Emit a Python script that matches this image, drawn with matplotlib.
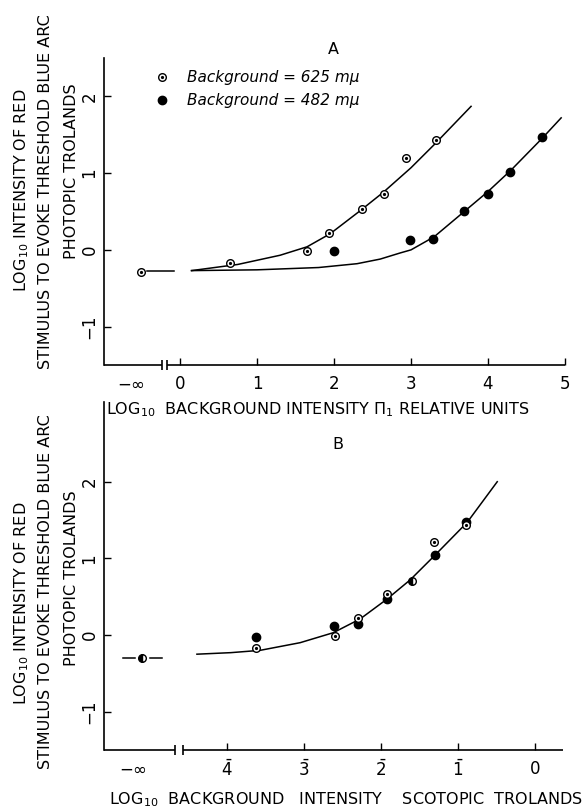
import matplotlib.pyplot as plt

# ---- panel A data (log units) ----
a_open_x = [-0.51, 0.65, 1.65, 1.94, 2.36, 2.65, 2.93, 3.32]
a_open_y = [-0.29, -0.17, -0.01, 0.22, 0.53, 0.73, 1.20, 1.43]
a_fill_x = [2.00, 2.99, 3.29, 3.69, 4.00, 4.29, 4.70]
a_fill_y = [-0.01, 0.13, 0.14, 0.51, 0.73, 1.02, 1.47]
a_curve_open_x = [0.15, 0.75, 1.30, 1.65, 1.95, 2.34, 2.64, 3.00, 3.31, 3.78]
a_curve_open_y = [-0.27, -0.19, -0.07, 0.04, 0.21, 0.51, 0.75, 1.07, 1.38, 1.87]
a_curve_fill_x = [0.15, 1.00, 1.80, 2.30, 2.60, 2.86, 3.00, 3.30, 3.68, 4.00, 4.30, 4.70, 4.95]
a_curve_fill_y = [-0.27, -0.26, -0.23, -0.18, -0.12, -0.04, 0.00, 0.17, 0.49, 0.76, 1.04, 1.45, 1.72]
a_dash_x = [-0.43, -0.08]
a_dash_y = [-0.27, -0.27]
a_xticks = [-0.64, 0, 1, 2, 3, 4, 5]
a_xticklabels = [r'$-\infty$', '0', '1', '2', '3', '4', '5']

# ---- panel B data ----
b_open_x = [-3.62, -2.60, -2.30, -1.92, -1.31, -0.89]
b_open_y = [-0.17, -0.01, 0.22, 0.53, 1.22, 1.43]
b_fill_x = [-3.62, -2.61, -2.30, -1.92, -1.30, -0.89]
b_fill_y = [-0.03, 0.12, 0.15, 0.47, 1.04, 1.48]
b_half_x = [-5.10, -1.60]
b_half_y = [-0.30, 0.71]
b_curve_x = [-4.39, -3.95, -3.57, -3.05, -2.62, -2.27, -1.92, -1.62, -1.32, -0.88, -0.49]
b_curve_y = [-0.25, -0.23, -0.20, -0.10, 0.03, 0.21, 0.47, 0.72, 1.02, 1.47, 2.00]
b_dash_l_x = [-5.35, -5.20]
b_dash_r_x = [-5.00, -4.85]
b_dash_y = [-0.30, -0.30]
b_xticks = [-5.22, -4, -3, -2, -1, 0]
b_xticklabels = [r'$-\infty$', r'$\bar{4}$', r'$\bar{3}$', r'$\bar{2}$', r'$\bar{1}$', '0']

yticks = [-1, 0, 1, 2]
yticklabels = ['\u22121', '0', '1', '2']

W, H = 587, 811
fig = plt.figure(figsize=(W / 100, H / 100), dpi=100)


def rect(l, t, r, b):
    return [l / W, 1 - b / H, (r - l) / W, (b - t) / H]


axA = fig.add_axes(rect(104, 58, 565, 365))
axB = fig.add_axes(rect(104, 402, 563, 750))
axB.patch.set_visible(False)
axA.set_xlim(-0.987, 5.0)
axA.set_ylim(-1.50, 2.50)
axB.set_xlim(-5.597, 0.364)
axB.set_ylim(-1.50, 3.04)


def style(ax, xticks, xlabels, brk):
    for s in ['top', 'right', 'bottom']:
        ax.spines[s].set_visible(False)
    ax.spines['left'].set_linewidth(1.2)
    ax.set_yticks(yticks)
    ax.set_yticklabels(yticklabels, rotation=90, va='center')
    ax.set_xticks(xticks)
    ax.set_xticklabels(xlabels)
    ax.tick_params(direction='in', length=5, width=1, labelsize=12)
    ax.tick_params(axis='x', pad=7)
    ax.tick_params(axis='y', pad=4)
    ax.xaxis.get_major_ticks()[0].tick1line.set_visible(False)
    # broken x axis
    x0, x1 = ax.get_xlim()
    y0 = ax.get_ylim()[0]
    kw = dict(color='k', lw=1.2, clip_on=False, solid_capstyle='butt')
    ax.plot([x0, brk[0]], [y0, y0], **kw)
    ax.plot([brk[1], x1], [y0, y0], **kw)
    for b in brk:
        ax.plot([b, b], [y0 - 0.06, y0 + 0.06], **kw)


style(axA, a_xticks, a_xticklabels, (-0.23, -0.17))
style(axB, b_xticks, b_xticklabels, (-4.68, -4.57))

ms_o, ms_f = 5.5, 6

# panel A
axA.plot(a_curve_open_x, a_curve_open_y, color='k', lw=1.1)
axA.plot(a_curve_fill_x, a_curve_fill_y, color='k', lw=1.1)
axA.plot(a_dash_x, a_dash_y, color='k', lw=1.1)
h_open, = axA.plot(a_open_x, a_open_y, 'o', ms=ms_o, mfc='white', mec='k', mew=1, ls='none')
h_dot, = axA.plot(a_open_x, a_open_y, 'o', ms=1.3, color='k', ls='none')
h_fill, = axA.plot(a_fill_x, a_fill_y, 'o', ms=ms_f, color='k', ls='none')
axA.legend([(h_open, h_dot), h_fill],
           ['Background = 625 m\u03bc', 'Background = 482 m\u03bc'],
           loc='upper left', bbox_to_anchor=(155 / W, 1 - 70 / H),
           bbox_transform=fig.transFigure, frameon=False,
           handlelength=0.9, handletextpad=1.2, borderpad=0, borderaxespad=0,
           labelspacing=0.55, prop={'style': 'italic', 'size': 11})
fig.text(333 / W, 1 - 50 / H, 'A', ha='center', va='center', fontsize=11.5)

# panel B
axB.plot(b_curve_x, b_curve_y, color='k', lw=1.1)
axB.plot(b_dash_l_x, b_dash_y, color='k', lw=1.1)
axB.plot(b_dash_r_x, b_dash_y, color='k', lw=1.1)
axB.plot(b_fill_x, b_fill_y, 'o', ms=ms_f, color='k', ls='none')
axB.plot(b_open_x, b_open_y, 'o', ms=ms_o, mfc='white', mec='k', mew=1, ls='none')
axB.plot(b_open_x, b_open_y, 'o', ms=1.3, color='k', ls='none')
axB.plot(b_half_x, b_half_y, 'o', ms=ms_o, color='k', mec='k', mew=1,
         fillstyle='left', markerfacecoloralt='white', ls='none')
fig.text(338 / W, 1 - 445 / H, 'B', ha='center', va='center', fontsize=11.5)

# axis labels
fs = 11.5
fig.text(106 / W, 1 - 410 / H, 'LOG$_{10}$  BACKGROUND INTENSITY \u03a0$_{1}$ RELATIVE UNITS',
         ha='left', va='center', fontsize=fs)
fig.text(346 / W, 1 - 800 / H, 'LOG$_{10}$  BACKGROUND   INTENSITY    SCOTOPIC  TROLANDS',
         ha='center', va='center', fontsize=fs)

ylines = ['LOG$_{10}$ INTENSITY OF RED',
          'STIMULUS TO EVOKE THRESHOLD BLUE ARC',
          'PHOTOPIC TROLANDS']
for px, (ca, cb), txt in zip([22, 46, 72], [(190, 603), (192, 592), (171, 578)], ylines):
    for cy in (ca, cb):
        fig.text(px / W, 1 - cy / H, txt, rotation=90, ha='center', va='center', fontsize=fs)

fig.savefig('out.png', dpi=100)
